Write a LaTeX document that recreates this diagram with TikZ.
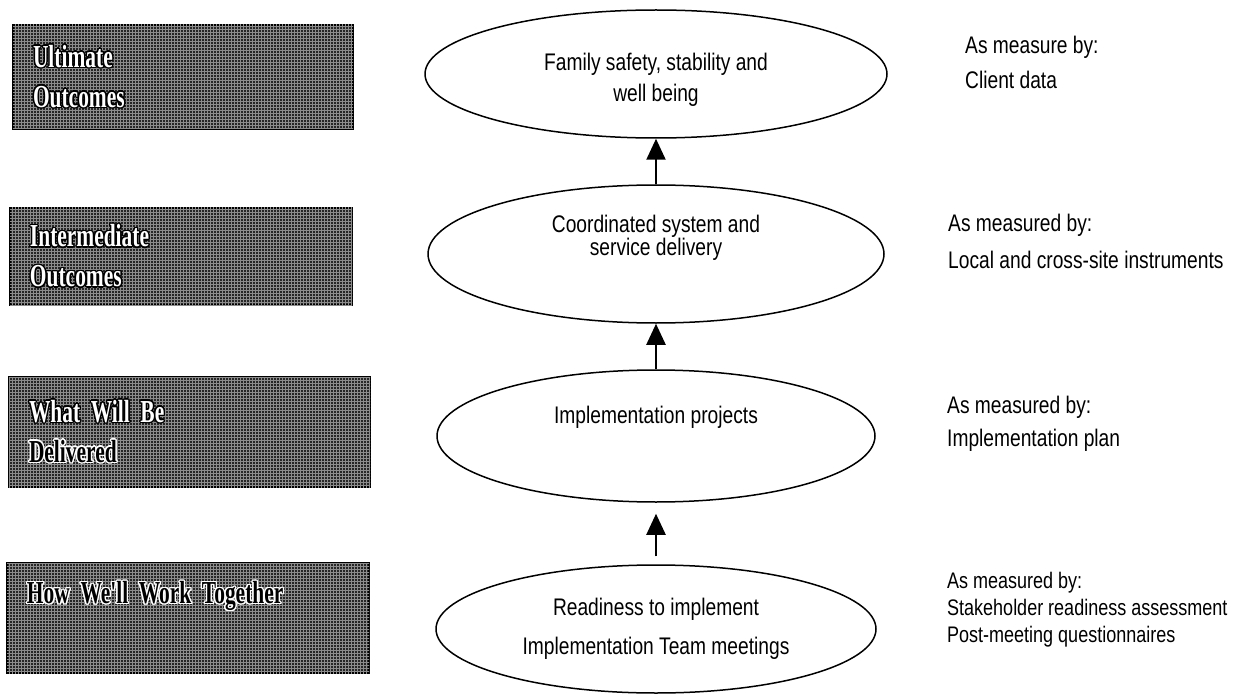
\documentclass[tikz,border=0pt]{standalone}
\usepackage{fontspec}
\setmainfont{Liberation Sans}[FakeStretch=0.8]
\newfontfamily\lvlfont{Liberation Serif}[FakeStretch=0.67]
\usepackage{xcolor}
\usepackage{contour}
\contourlength{1.3pt}
\usepackage{tikz}
\usetikzlibrary{shapes.geometric,arrows.meta,patterns}

\newcommand{\litext}[1]{{\color{white}\contour{black}{#1}}}
\newcommand{\dktext}[1]{\contour{white}{#1}}

\begin{document}
\begin{tikzpicture}[x=1pt, y=-1pt,
    lvlbox/.style={draw=black, line width=1.5pt, fill=black!85,
      postaction={pattern=grid, pattern color=white!55!black},
      align=left, inner xsep=20pt, inner ysep=0pt,
      font=\lvlfont\bfseries\fontsize{32}{40}\selectfont},
    oval/.style={ellipse, draw=black, line width=1.5pt, inner sep=0pt},
    ovaltxt/.style={align=center, font=\fontsize{24}{31}\selectfont},
    meas/.style={anchor=west, align=left, inner sep=0pt, font=\fontsize{24}{35}\selectfont},
    uparrow/.style={-{Triangle[width=19pt,length=21pt]}, line width=2.2pt}]

\useasboundingbox (0,0) rectangle (1234,695);

% levels on the left
\node[lvlbox, text width=300pt, minimum height=104pt] (ultimate) at (183,77) {\litext{Ultimate}\\\litext{Outcomes}};
\node[lvlbox, text width=302pt, minimum height=97pt] (intermediate) at (181,256.5) {\litext{Intermediate}\\\litext{Outcomes}};
\node[lvlbox, text width=321pt, minimum height=110pt] (delivered) at (189.5,432) {\litext{What Will Be}\\\dktext{Delivered}};
\node[lvlbox, text width=322pt, minimum height=110pt, text depth=51pt] (together) at (188,618) {\dktext{How We'll Work Together}};

% ovals in the middle
\node[oval, minimum width=462pt, minimum height=128pt,
      label={[ovaltxt, yshift=-5.5pt]center:{Family safety, stability and\\well being}}] (outcome) at (656,74) {};
\node[oval, minimum width=456pt, minimum height=138pt,
      label={[ovaltxt, yshift=16pt, font=\fontsize{24}{23}\selectfont]center:{Coordinated system and\\service delivery}}] (system) at (656,254) {};
\node[oval, minimum width=438pt, minimum height=132pt,
      label={[ovaltxt, yshift=19pt]center:{Implementation projects}}] (projects) at (656,436) {};
\node[oval, minimum width=440pt, minimum height=128pt,
      label={[ovaltxt, font=\fontsize{24}{39}\selectfont]center:{Readiness to implement\\Implementation Team meetings}}] (readiness) at (656,629) {};

\draw[uparrow] (system.north) -- (outcome.south);
\draw[uparrow] (projects.north) -- (system.south);
\draw[uparrow, shorten <=8pt, shorten >=11pt] (readiness.north) -- (projects.south);

% measures on the right
\node[meas] (byclient) at (965,62.5) {As measure by:\\Client data};
\node[meas, font=\fontsize{24}{37}\selectfont] (bysite) at (948,241.5) {As measured by:\\Local and cross-site instruments};
\node[meas, font=\fontsize{24}{33}\selectfont] (byplan) at (947,423.5) {As measured by:\\Implementation plan};
\node[meas, font=\fontsize{22.5}{27}\selectfont] (byready) at (947,610) {As measured by:\\Stakeholder readiness assessment\\Post-meeting questionnaires};
\end{tikzpicture}
\end{document}
